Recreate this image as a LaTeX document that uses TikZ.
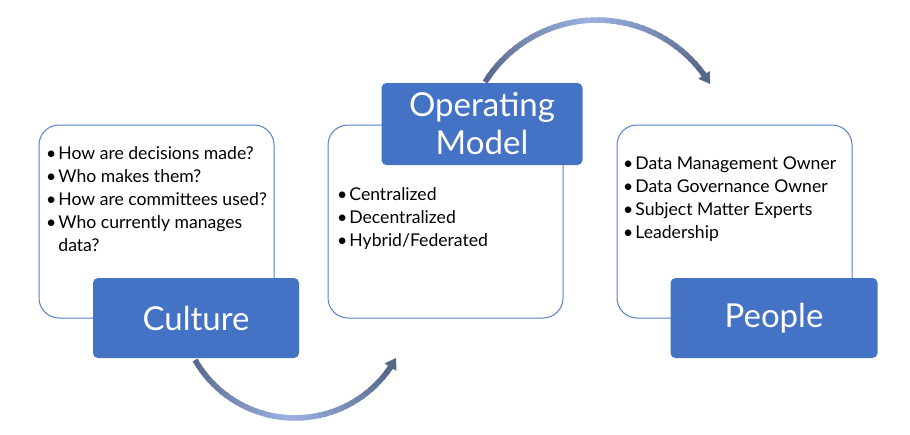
\documentclass[tikz,border=0pt]{standalone}
\usepackage{fontspec}
\setmainfont{Lato}
\usetikzlibrary{arrows.meta}
\definecolor{boxblue}{HTML}{4472C4}
\definecolor{lineblue}{HTML}{5580CC}
\definecolor{arrdark}{HTML}{56678A}
\definecolor{arrlight}{HTML}{9CB2E2}
\newcommand{\gradarc}[6]{%
  \foreach \i in {1,...,#6}{%
    \pgfmathsetmacro\ta{#4+(#5-#4)*(\i-1)/#6}%
    \pgfmathsetmacro\tb{#4+(#5-#4)*(\i+0.4)/#6}%
    \pgfmathsetmacro\mixv{abs(2*(\i-0.5)/#6-1)*100}%
    \draw[line width=5.5pt, color=arrdark!\mixv!arrlight]
      ({#1+#3*cos(\ta)},{#2-#3*sin(\ta)}) -- ({#1+#3*cos(\tb)},{#2-#3*sin(\tb)});
  }}
\tikzset{
  outbox/.style={draw=lineblue, line width=1pt, rounded corners=20pt, fill=white, inner sep=0pt},
  titlebox/.style={fill=boxblue, draw=none, rounded corners=5pt, inner sep=0pt, text=white,
    font=\fontsize{33}{38}\selectfont, align=center},
  bullets/.style={anchor=base west, inner sep=0pt, font=\fontsize{17.6}{23}\selectfont, text=black},
  arrhead/.style={-{Triangle[length=11pt,width=13pt]}, line width=5.5pt, color=arrdark}
}
\begin{document}
\begin{tikzpicture}[x=1pt,y=-1pt]
\useasboundingbox (0,0) rectangle (910,434);
\fill[white] (0,0) rectangle (910,434);

% outline boxes
\node[outbox, minimum width=235pt, minimum height=193pt] (cultureout) at (156.5,221.5) {};
\node[outbox, minimum width=235pt, minimum height=193pt] (opout) at (445.5,221.5) {};
\node[outbox, minimum width=235pt, minimum height=193pt] (peopleout) at (734.5,221.5) {};

% bullet texts
\node[bullets] (culturetxt) at (46,159) {\begin{tabular}[t]{@{}l@{\hspace{2pt}}l@{}}
\textbullet & How are decisions made?\\
\textbullet & Who makes them?\\
\textbullet & How are committees used?\\
\textbullet & Who currently manages\\
 & data?
\end{tabular}};
\node[bullets] (optxt) at (337,200) {\begin{tabular}[t]{@{}l@{\hspace{2pt}}l@{}}
\textbullet & Centralized\\
\textbullet & Decentralized\\
\textbullet & Hybrid/Federated
\end{tabular}};
\node[bullets] (peopletxt) at (623,169) {\begin{tabular}[t]{@{}l@{\hspace{2pt}}l@{}}
\textbullet & Data Management Owner\\
\textbullet & Data Governance Owner\\
\textbullet & Subject Matter Experts\\
\textbullet & Leadership
\end{tabular}};

% title boxes
\node[titlebox, minimum width=206pt, minimum height=80pt] (culture) at (196,318) {Culture};
\node[titlebox, minimum width=201pt, minimum height=82pt] (opmodel) at (482,124) {Operating\\Model};
\node[titlebox, minimum width=207pt, minimum height=80pt] (people) at (774,318) {People};

% curved arrows
\gradarc{295}{302.8}{115.2}{209.8}{325}{40}
\coordinate (b1) at ({295+115.2*cos(325)},{302.8-115.2*sin(325)});
\coordinate (b2) at ({295+115.2*cos(331.5)},{302.8-115.2*sin(331.5)});
\draw[arrhead] (b1) -- (b2);

\gradarc{597}{152}{132}{148}{37}{40}
\coordinate (t1) at ({597+132*cos(37)},{152-132*sin(37)});
\coordinate (t2) at ({597+132*cos(31)},{152-132*sin(31)});
\draw[arrhead] (t1) -- (t2);
\end{tikzpicture}
\end{document}
